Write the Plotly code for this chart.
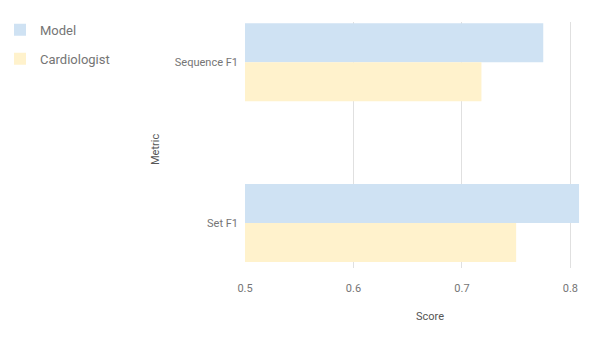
import plotly.graph_objects as go

metrics = ["Sequence F1", "Set F1"]
model_scores = [0.775, 0.808]
cardiologist_scores = [0.718, 0.750]
x_ticks = [0.5, 0.6, 0.7, 0.8]

TXT = "#757575"
FONT = "Roboto, Arial, sans-serif"

fig = go.Figure()
fig.add_trace(go.Bar(y=metrics, x=model_scores, name="Model", orientation="h",
                     marker=dict(color="#cfe2f3", line=dict(width=0)), legendgroup="a"))
fig.add_trace(go.Bar(y=metrics, x=cardiologist_scores, name="Cardiologist", orientation="h",
                     marker=dict(color="#fff2cc", line=dict(width=0)), legendgroup="b"))

fig.update_layout(
    width=604, height=345,
    margin=dict(l=245, r=0, t=22, b=77),
    paper_bgcolor="white", plot_bgcolor="white",
    barmode="group", bargap=0.515, bargroupgap=0,
    font=dict(family=FONT, color=TXT, size=11),
    showlegend=True,
    legend=dict(xref="container", yref="container", x=0.0, y=0.957,
                xanchor="left", yanchor="top", font=dict(size=13, color=TXT),
                tracegroupgap=9, itemwidth=30, bgcolor="rgba(0,0,0,0)"),
    xaxis=dict(range=[0.5, 0.831], tickvals=x_ticks, ticktext=[str(v) for v in x_ticks],
               showgrid=True, gridcolor="#e0e0e0", gridwidth=1, zeroline=False,
               showline=False, ticks="", ticklabelstandoff=12, tickfont=dict(size=11, color=TXT)),
    yaxis=dict(range=[1.28, -0.25], showgrid=False, zeroline=False, showline=False,
               ticks="", ticklabelstandoff=6, tickfont=dict(size=11, color=TXT)),
    annotations=[
        dict(text="Score", xref="paper", yref="paper", x=(430 - 245) / 359, y=(268 - 316) / 246,
             showarrow=False, font=dict(size=11, color="#555555"), xanchor="center", yanchor="middle"),
        dict(text="Metric", xref="paper", yref="paper", x=(155 - 245) / 359, y=(268 - 150) / 246,
             showarrow=False, textangle=-90, font=dict(size=11, color="#555555"),
             xanchor="center", yanchor="middle"),
    ],
)

fig.write_html("out.html")
